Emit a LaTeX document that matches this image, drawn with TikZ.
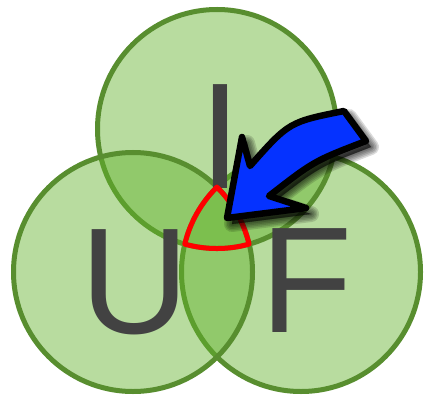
\documentclass[tikz,border=0pt]{standalone}
\usepackage{fontspec}
\setmainfont{Liberation Sans}
\definecolor{venfill}{RGB}{99,179,44}
\definecolor{venline}{RGB}{88,142,47}
\definecolor{lettergray}{RGB}{66,66,66}
\definecolor{arrowblue}{RGB}{5,50,255}
\tikzset{
  venn/.style={fill=venfill, fill opacity=0.45, draw=venline, draw opacity=1, line width=5pt},
  letter/.style={anchor=base west, inner sep=0pt, outer sep=0pt, text=lettergray,
    font=\fontsize{151}{151}\selectfont},
  redline/.style={draw=red, line width=5pt, line join=round},
  bluearrow/.style={fill=arrowblue, draw=black, line width=6.5pt, line join=round},
  shadowlayer/.style={fill=black, draw=black, fill opacity=0.14, draw opacity=0.14,
    line join=round, line width=#1}
}
\def\arrowshape{(344,283) .. controls (289,272) .. (250,228)
  -- (242,257) -- (227,176) -- (306,186) -- (269,198)
  .. controls (314,233) .. (366,253) -- cycle}
\begin{document}
\begin{tikzpicture}[x=1pt,y=1pt]
\useasboundingbox (0,0) rectangle (425,394);
\fill[white] (0,0) rectangle (425,394);
% circles (order F, I, U)
\path[venn] (301,122) circle[radius=119.5pt];
\path[venn] (217,265) circle[radius=119.5pt];
\path[venn] (133,122) circle[radius=119.5pt];
% letters
\node[letter] (lI) at (199,206) {I};
\node[letter] (lU) at (80,61) {U};
\node[letter] (lF) at (260.5,62) {F};
% triple intersection outline
\draw[redline] (217,207)
  arc[start angle=134.65, end angle=166.5, radius=119.5pt]
  arc[start angle=254.4, end angle=285.6, radius=119.5pt]
  arc[start angle=13.5, end angle=45.35, radius=119.5pt] -- cycle;
% blurred shadow of the arrow
\begin{scope}[shift={(5,-6)}]
  \foreach \w in {16,13,10,7,4,1} {
    \path[shadowlayer=\w pt] \arrowshape;
  }
\end{scope}
% blue arrow
\path[bluearrow] \arrowshape;
\end{tikzpicture}
\end{document}
